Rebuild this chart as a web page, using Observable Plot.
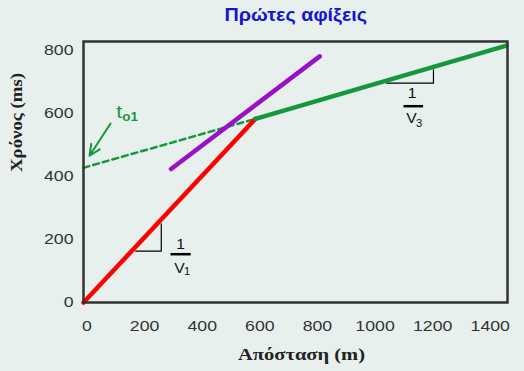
<!DOCTYPE html>
<html>
<head>
<meta charset="utf-8">
<script src="https://cdn.jsdelivr.net/npm/d3@7"></script>
<script src="https://cdn.jsdelivr.net/npm/@observablehq/plot@0.6"></script>
<style>
  html, body { margin: 0; padding: 0; background: #e8f0ee; }
  #title { height: 30px; box-sizing: border-box; padding-left: 68px; text-align: center;
    font: bold 18px "Liberation Sans", Arial, sans-serif; color: #1414d2; line-height: 30px; }
  #title span { display: inline-block; transform: scaleX(1.1); }
  svg { display: block; }
</style>
</head>
<body>
<div id="title"><span>Πρώτες αφίξεις</span></div>
<div id="chart"></div>
<script>
// Data (distance in m, time in ms)
const xTicks = [0, 200, 400, 600, 800, 1000, 1200, 1400];
const yTicks = [0, 200, 400, 600, 800];
const directX = [0, 597];        // direct wave (red)
const directT = [0, 582];
const refractX = [597, 1468];    // refracted head wave (green)
const refractT = [582, 814];
const interceptX = [0, 597];     // back-extrapolation to t_o1 (dashed)
const interceptT = [427, 582];
const otherX = [304, 820];       // purple branch
const otherT = [423, 780];
const tri1X = [181, 270, 270];   // slope triangle 1/V1
const tri1T = [163, 163, 249];
const tri3X = [1052, 1215, 1215]; // slope triangle 1/V3
const tri3T = [695, 695, 737];
const arrowFrom = [94, 567];
const arrowTo = [21, 465];
const xLabel = "Απόσταση (m)";
const yLabel = "Χρόνος (ms)";

const toPts = (xs, ts) => xs.map((x, i) => ({x, t: ts[i]}));

const sans = '"Liberation Sans", Arial, sans-serif';
const serif = '"Liberation Serif", "Times New Roman", serif';
const green = "#13993c";

const plot = Plot.plot({
  width: 524,
  height: 341,
  marginLeft: 83,
  marginRight: 17,
  marginTop: 11,
  marginBottom: 69,
  style: {background: "transparent", fontFamily: sans, fontSize: "15px", color: "#333"},
  x: {domain: [0, 1472], ticks: xTicks, label: null},
  y: {domain: [0, 827], ticks: yTicks, label: null},
  marks: [
    Plot.axisX({ticks: xTicks, tickFormat: "d", tickSize: 0, tickPadding: 18, dx: 3.5, label: null, fontSize: 15, fill: "#333"}),
    Plot.axisY({ticks: yTicks, tickFormat: "d", tickSize: 0, tickPadding: 10, label: null, fontSize: 15, fill: "#333"}),
    Plot.line(toPts(tri1X, tri1T), {x: "x", y: "t", stroke: "#000", strokeWidth: 1.2}),
    Plot.line(toPts(tri3X, tri3T), {x: "x", y: "t", stroke: "#000", strokeWidth: 1.2}),
    Plot.line(toPts(interceptX, interceptT), {x: "x", y: "t", stroke: green, strokeWidth: 2.5, strokeDasharray: "6,4"}),
    Plot.line(toPts(directX, directT), {x: "x", y: "t", stroke: "#ff0000", strokeWidth: 4.5}),
    Plot.line(toPts(otherX, otherT), {x: "x", y: "t", stroke: "#9910c8", strokeWidth: 4.5, strokeLinecap: "round"}),
    Plot.line(toPts(refractX, refractT), {x: "x", y: "t", stroke: green, strokeWidth: 4.5}),
    Plot.arrow([{x1: arrowFrom[0], y1: arrowFrom[1], x2: arrowTo[0], y2: arrowTo[1]}],
      {x1: "x1", y1: "y1", x2: "x2", y2: "y2", stroke: green, strokeWidth: 2, headLength: 9, headAngle: 50}),
    // t_o1 label
    Plot.text([{x: 124, t: 605}], {x: "x", y: "t", text: () => "t", fill: green, fontSize: 19, fontFamily: sans}),
    Plot.text([{x: 162, t: 586}], {x: "x", y: "t", text: () => "o1", fill: green, fontSize: 12, fontWeight: "bold", fontFamily: sans}),
    // 1/V1
    Plot.text([{x: 337, t: 185}], {x: "x", y: "t", text: () => "1", fontSize: 14, fill: "#111"}),
    Plot.link([{x1: 302, x2: 372, t: 153}], {x1: "x1", x2: "x2", y1: "t", y2: "t", stroke: "#000", strokeWidth: 2.5}),
    Plot.text([{x: 333, t: 107}], {x: "x", y: "t", text: () => "V", fontSize: 14, fill: "#111"}),
    Plot.text([{x: 360, t: 96}], {x: "x", y: "t", text: () => "1", fontSize: 10, fill: "#111"}),
    // 1/V3
    Plot.text([{x: 1141, t: 661}], {x: "x", y: "t", text: () => "1", fontSize: 14, fill: "#111"}),
    Plot.link([{x1: 1111, x2: 1179, t: 622}], {x1: "x1", x2: "x2", y1: "t", y2: "t", stroke: "#000", strokeWidth: 2.5}),
    Plot.text([{x: 1139, t: 582}], {x: "x", y: "t", text: () => "V", fontSize: 14, fill: "#111"}),
    Plot.text([{x: 1165, t: 566}], {x: "x", y: "t", text: () => "3", fontSize: 10, fill: "#111"}),
    Plot.frame({stroke: "#333", strokeWidth: 2.5}),
    Plot.text([xLabel], {frameAnchor: "bottom", dy: 57, dx: 6, fontFamily: serif, fontWeight: "bold", fontSize: 17, fill: "#222"}),
    Plot.text([yLabel], {frameAnchor: "left", rotate: -90, dx: -67, dy: 0, fontFamily: serif, fontWeight: "bold", fontSize: 17, fill: "#222"})
  ]
});
document.getElementById("chart").append(plot);

// Reference text is drawn wider than tall: adjust glyph widths to match it.
plot.querySelectorAll("text").forEach((el) => {
  const s = el.textContent;
  let len = null;
  if (s === xLabel) len = 127;
  else if (s === yLabel) len = 99;
  else if (/^\d+$/.test(s) && el.closest("g") && el.closest("g").getAttribute("aria-label")?.includes("tick")) len = el.getComputedTextLength() * 1.18;
  else if (s.length) len = el.getComputedTextLength() * 1.12;
  if (len) {
    el.setAttribute("textLength", len.toFixed(1));
    el.setAttribute("lengthAdjust", "spacingAndGlyphs");
  }
});
</script>
</body>
</html>
